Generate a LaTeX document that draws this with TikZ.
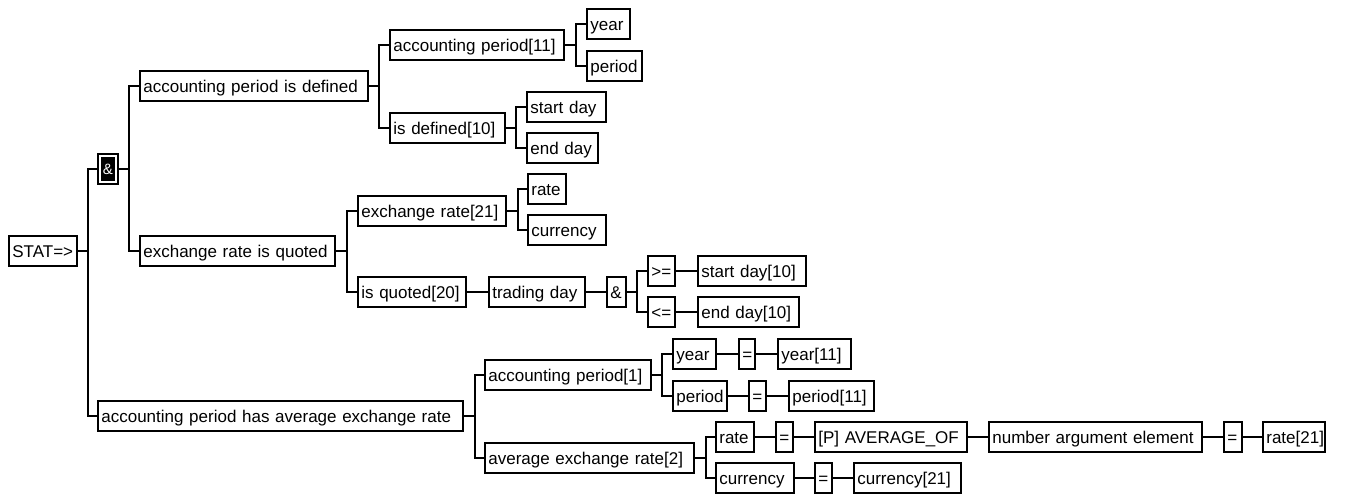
\documentclass[tikz,border=0pt]{standalone}
\usepackage{fontspec}
\setmainfont{Liberation Sans}
\begin{document}
\begin{tikzpicture}[x=1pt, y=-1pt,
  bx/.style={draw, line width=1.7pt, anchor=west, inner xsep=3.5pt, inner ysep=0pt,
    minimum height=30.5pt, text height=12.3pt, text depth=0pt, align=left,
    text width=#1pt-8.7pt, font=\fontsize{17}{20}\selectfont,
    execute at begin node={\hbox\bgroup}, execute at end node={\egroup}},
  inv/.style={draw, fill=black, text=white, line width=1.6pt, double=white,
    double distance=2.2pt, minimum width=16pt, minimum height=26.5pt, inner sep=0pt,
    outer sep=2.7pt, font=\fontsize{15}{17}\selectfont},
  link/.style={line width=1.7pt, line cap=rect}]

\fill[white] (0,0) rectangle (1347,495);
\useasboundingbox (0,0) rectangle (1347,495);

% root and the "and" junction
\node[bx=70] (stat) at (8,251) {STAT=>};
\node[inv] (and1) at (108,169) {\&};

% first statement: accounting period is defined
\node[bx=230] (apd) at (139,86) {accounting period is defined};
\node[bx=176] (ap11) at (389,45) {accounting period[11]};
\node[bx=45] (yr1) at (586,24) {year};
\node[bx=57] (pd1) at (586,66) {period};
\node[bx=117] (isdef) at (389,128) {is defined[10]};
\node[bx=81] (sday) at (526,107) {start day};
\node[bx=73] (eday) at (526,148) {end day};

% second statement: exchange rate is quoted
\node[bx=197] (erq) at (139,251) {exchange rate is quoted};
\node[bx=150] (er21) at (357,211) {exchange rate[21]};
\node[bx=40] (rt1) at (527,189) {rate};
\node[bx=80] (cur1) at (527,230) {currency};
\node[bx=110] (isq) at (357,292) {is quoted[20]};
\node[bx=98] (tday) at (488,292) {trading day};
\node[bx=21] (and2) at (606,292) {\&};
\node[bx=29] (ge) at (647,271) {>=};
\node[bx=110] (sd10) at (697,271) {start day[10]};
\node[bx=29] (le) at (647,312) {<=};
\node[bx=103] (ed10) at (697,312) {end day[10]};

% conclusion: accounting period has average exchange rate
\node[bx=367] (aph) at (97,416) {accounting period has average exchange rate};
\node[bx=168] (ap1) at (484,375) {accounting period[1]};
\node[bx=45] (yr2) at (672,354) {year};
\node[bx=18] (eq1) at (738,354) {=};
\node[bx=75] (yr11) at (777,354) {year[11]};
\node[bx=56] (pd2) at (672,396) {period};
\node[bx=19] (eq2) at (748,396) {=};
\node[bx=87] (pd11) at (788,396) {period[11]};
\node[bx=211] (aer2) at (484,458) {average exchange rate[2]};
\node[bx=40] (rt2) at (715,437) {rate};
\node[bx=19] (eq3) at (775,437) {=};
\node[bx=154] (avg) at (814,437) {{[P]} AVERAGE\_OF};
\node[bx=215] (nae) at (988,437) {number argument element};
\node[bx=20] (eq4) at (1223,437) {=};
\node[bx=64] (rt21) at (1262,437) {rate[21]};
\node[bx=80] (cur2) at (715,478) {currency};
\node[bx=19] (eq5) at (814,478) {=};
\node[bx=109] (cur21) at (853,478) {currency[21]};

% tree connectors
\draw[link] (stat.east) -- ++(10,0) coordinate (b0) |- (and1.west) (b0) |- (aph.west);
\draw[link] (and1.east) -- ++(10,0) coordinate (b1) |- (apd.west) (b1) |- (erq.west);
\draw[link] (apd.east) -- ++(10,0) coordinate (b2) |- (ap11.west) (b2) |- (isdef.west);
\draw[link] (ap11.east) -- ++(11,0) coordinate (b3) |- (yr1.west) (b3) |- (pd1.west);
\draw[link] (isdef.east) -- ++(10,0) coordinate (b4) |- (sday.west) (b4) |- (eday.west);
\draw[link] (erq.east) -- ++(11,0) coordinate (b5) |- (er21.west) (b5) |- (isq.west);
\draw[link] (er21.east) -- ++(11,0) coordinate (b6) |- (rt1.west) (b6) |- (cur1.west);
\draw[link] (isq) -- (tday) -- (and2);
\draw[link] (and2.east) -- ++(10,0) coordinate (b7) |- (ge.west) (b7) |- (le.west);
\draw[link] (ge) -- (sd10);
\draw[link] (le) -- (ed10);
\draw[link] (aph.east) -- ++(11,0) coordinate (b8) |- (ap1.west) (b8) |- (aer2.west);
\draw[link] (ap1.east) -- ++(10,0) coordinate (b9) |- (yr2.west) (b9) |- (pd2.west);
\draw[link] (yr2) -- (eq1) -- (yr11);
\draw[link] (pd2) -- (eq2) -- (pd11);
\draw[link] (aer2.east) -- ++(11,0) coordinate (b10) |- (rt2.west) (b10) |- (cur2.west);
\draw[link] (rt2) -- (eq3) -- (avg) -- (nae) -- (eq4) -- (rt21);
\draw[link] (cur2) -- (eq5) -- (cur21);
\end{tikzpicture}
\end{document}
